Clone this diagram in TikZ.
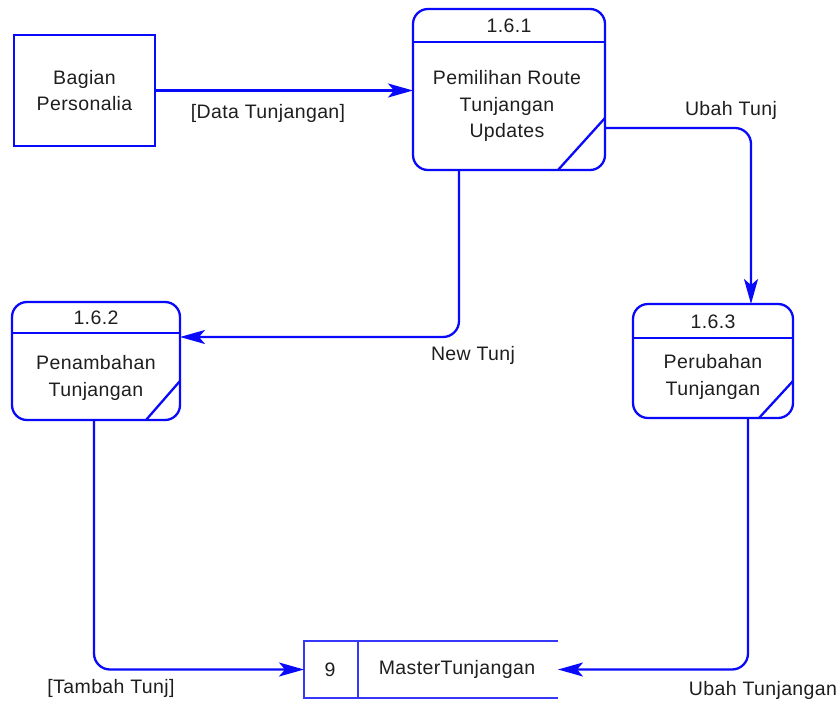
\documentclass[tikz,border=0pt]{standalone}
\usepackage{fontspec}
\setmainfont{Liberation Sans}[LetterSpace=2]
\usetikzlibrary{arrows.meta,calc}
\definecolor{dfdblue}{RGB}{10,10,250}
\definecolor{storeblue}{RGB}{55,55,250}
\definecolor{ink}{RGB}{30,30,30}

\begin{document}
\begin{tikzpicture}[x=1pt,y=-1pt,
  every node/.style={inner sep=0pt, outer sep=0pt},
  txt/.style={text=ink, font=\fontsize{19.5}{26.5}\selectfont, align=center},
  boxline/.style={draw=dfdblue, line width=2.3pt},
  proc/.style={boxline, rounded corners=15pt},
  ext/.style={boxline},
  storeline/.style={draw=storeblue, line width=2.1pt},
  flow/.style={draw=dfdblue, line width=2.3pt, rounded corners=16pt,
    -{Stealth[length=25pt, width=14pt, inset=6pt]}}
]
\useasboundingbox (0,0) rectangle (840,704);

% external entity
\node[ext, minimum width=141pt, minimum height=111pt] (b) at (84.5,90.5) {};
\node[txt] (btxt) at (b.center) {Bagian\\Personalia};

% process 1.6.1
\node[proc, minimum width=192pt, minimum height=161pt] (p1) at (509,89.5) {};
\draw[boxline] ($(p1.north west)+(0,33)$) -- ($(p1.north east)+(0,33)$);
\draw[boxline] ($(p1.north east)+(0,109)$) -- ($(p1.south east)+(-47,0)$);
\node[txt] (p1id) at (509,26) {1.6.1};
\node[txt] (p1txt) at (507,106) {Pemilihan Route\\Tunjangan\\Updates};

% process 1.6.2
\node[proc, minimum width=168pt, minimum height=118pt] (p2) at (96,361) {};
\draw[boxline] ($(p2.north west)+(0,31)$) -- ($(p2.north east)+(0,31)$);
\draw[boxline] ($(p2.north east)+(0,79)$) -- ($(p2.south east)+(-34,0)$);
\node[txt] (p2id) at (96,318) {1.6.2};
\node[txt] (p2txt) at (96,378) {Penambahan\\Tunjangan};

% process 1.6.3
\node[proc, minimum width=160pt, minimum height=114pt] (p3) at (713,361) {};
\draw[boxline] ($(p3.north west)+(0,34)$) -- ($(p3.north east)+(0,34)$);
\draw[boxline] ($(p3.north east)+(0,77)$) -- ($(p3.south east)+(-34,0)$);
\node[txt] (p3id) at (713,322) {1.6.3};
\node[txt] (p3txt) at (713,377) {Perubahan\\Tunjangan};

% data store 9
\node[minimum width=254pt, minimum height=57pt] (s) at (431,669.5) {};
\draw[storeline] (s.north east) -- (s.north west) -- (s.south west) -- (s.south east);
\draw[storeline] ($(s.north west)+(54,0)$) -- ($(s.south west)+(54,0)$);
\node[txt] (sid) at (330,669.5) {9};
\node[txt] (sname) at (457,669.5) {MasterTunjangan};

% data flows
\draw[flow] (b.east) -- (b.east -| p1.west);
\node[txt] (l1) at (268,113) {[Data Tunjangan]};

\draw[flow] ($(p1.south west)+(46,0)$) |- ($(p2.north east)+(0,35)$);
\node[txt] (l2) at (473,355) {New Tunj};

\draw[flow] ($(p1.east)+(0,38.5)$) -| ($(p3.north)+(38,0)$);
\node[txt] (l3) at (731,110) {Ubah Tunj};

\draw[flow] ($(p2.south)+(-2,0)$) |- (s.west);
\node[txt] (l4) at (111,688) {[Tambah Tunj]};

\draw[flow] ($(p3.south)+(35,0)$) |- (s.east);
\node[txt] (l5) at (763,690) {Ubah Tunjangan};
\end{tikzpicture}
\end{document}
